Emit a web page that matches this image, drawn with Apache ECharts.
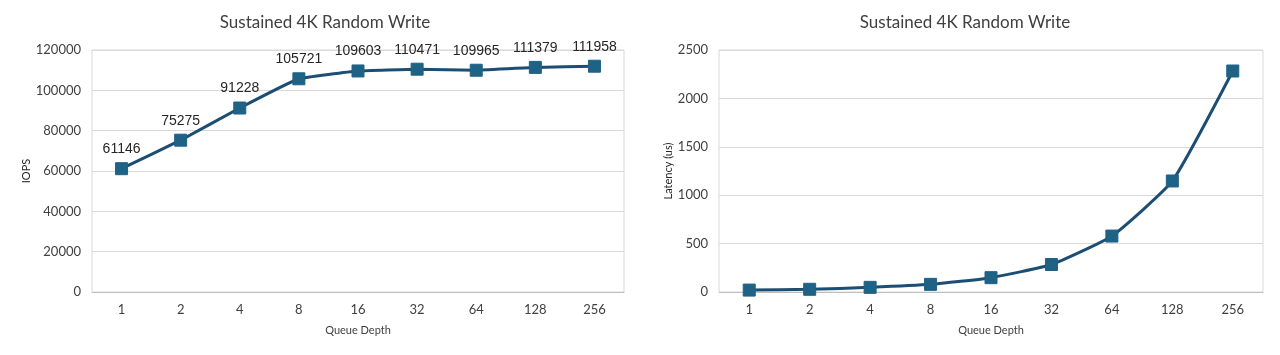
<!DOCTYPE html>
<html>
<head>
<meta charset="utf-8">
<script src="https://cdn.jsdelivr.net/npm/echarts@6/dist/echarts.min.js"></script>
<style>
html,body{margin:0;padding:0;background:#fff;}
#c{width:1280px;height:355px;}
</style>
</head>
<body>
<div id="c"></div>
<script>
const categories = ['1','2','4','8','16','32','64','128','256'];
const iops = [61146, 75275, 91228, 105721, 109603, 110471, 109965, 111379, 111958];
const latency = [20, 28, 48, 79, 148, 284, 578, 1147, 2283];
const chartTitle = 'Sustained 4K Random Write';
const xName = 'Queue Depth';
const yNameLeft = 'IOPS';
const yNameRight = 'Latency (us)';

const lineColor = '#1c4e74';
const markColor = '#1e6286';
const tickFont = 'Lato, "Open Sans", sans-serif';

const chart = echarts.init(document.getElementById('c'), null, {renderer: 'canvas'});

function xAxisCfg(gi) {
  return {
    type: 'category', gridIndex: gi, data: categories, boundaryGap: true,
    axisLine: {show: true, lineStyle: {color: '#bfbfbf', width: 1}},
    axisTick: {show: false},
    axisLabel: {color: '#404040', fontSize: 13, fontFamily: tickFont, margin: 11},
    name: xName, nameLocation: 'middle', nameGap: 33,
    nameTextStyle: {color: '#404040', fontSize: 11, fontFamily: tickFont}
  };
}
function yAxisCfg(gi, max, interval, name, gap) {
  return {
    type: 'value', gridIndex: gi, min: 0, max: max, interval: interval,
    axisLine: {show: false}, axisTick: {show: false},
    splitLine: {lineStyle: {color: '#d9d9d9', width: 1}},
    axisLabel: {color: '#404040', fontSize: 13, fontFamily: tickFont, margin: 11,
                formatter: function (v) { return String(v); }},
    name: name, nameLocation: 'middle', nameGap: gap, nameRotate: 90,
    nameTextStyle: {color: '#262626', fontSize: 11, fontFamily: tickFont}
  };
}

chart.setOption({
  animation: false,
  backgroundColor: '#ffffff',
  title: [
    {text: chartTitle, left: 320, top: 9, textAlign: 'center',
     textStyle: {color: '#404040', fontSize: 17, fontWeight: 'normal', fontFamily: tickFont}},
    {text: chartTitle, left: 960, top: 9, textAlign: 'center',
     textStyle: {color: '#404040', fontSize: 17, fontWeight: 'normal', fontFamily: tickFont}}
  ],
  grid: [
    {left: 92, right: 656, top: 50, bottom: 63, show: true, borderColor: '#d9d9d9', borderWidth: 1, backgroundColor: 'transparent'},
    {left: 719, right: 17, top: 50, bottom: 63, show: true, borderColor: '#d9d9d9', borderWidth: 1, backgroundColor: 'transparent'}
  ],
  xAxis: [xAxisCfg(0), xAxisCfg(1)],
  yAxis: [
    yAxisCfg(0, 120000, 20000, yNameLeft, 58),
    yAxisCfg(1, 2500, 500, yNameRight, 45)
  ],
  series: [
    {
      type: 'line', xAxisIndex: 0, yAxisIndex: 0, data: iops, smooth: 0.1,
      symbol: 'rect', symbolSize: 12,
      lineStyle: {color: lineColor, width: 3},
      itemStyle: {color: markColor, borderColor: markColor},
      label: {show: true, position: 'top', distance: 6, color: '#262626', fontSize: 14,
              fontFamily: '"Liberation Sans", Arial, sans-serif'}
    },
    {
      type: 'line', xAxisIndex: 1, yAxisIndex: 1, data: latency, smooth: 0.15,
      symbol: 'rect', symbolSize: 12,
      lineStyle: {color: lineColor, width: 3},
      itemStyle: {color: markColor, borderColor: markColor}
    }
  ]
});
</script>
</body>
</html>
